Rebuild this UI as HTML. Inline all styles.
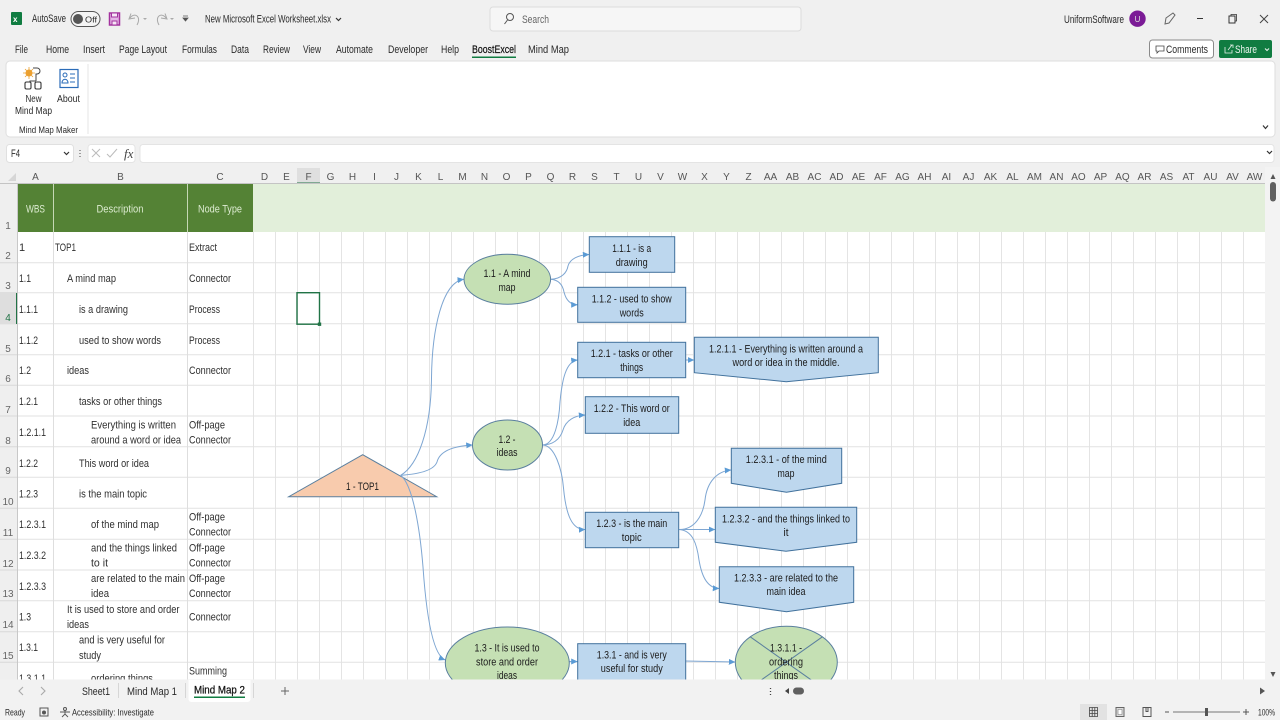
<!DOCTYPE html>
<html><head><meta charset="utf-8"><title>Mind Map</title>
<style>
html,body{margin:0;padding:0;background:#f0f0f0;width:1280px;height:720px;overflow:hidden}
svg{display:block;position:absolute;left:0;top:0;filter:blur(.35px)}
text{font-family:"Liberation Sans",sans-serif;font-size:11px;fill:#2a2a2a}
.c text{font-size:11px;fill:#303030}
.n text{font-size:11px;fill:#1c1c1c;text-anchor:middle}
.h text{font-size:10px;fill:#555;text-anchor:middle}
.r text{font-size:10px;fill:#666;text-anchor:middle}
.i{fill:none;stroke:#555;stroke-width:1}
</style></head><body>
<svg width="1280" height="720" viewBox="0 0 1280 720" xmlns="http://www.w3.org/2000/svg">
<defs>
<pattern id="vg" x="253" y="0" width="22" height="10" patternUnits="userSpaceOnUse"><rect x="0" y="0" width="1" height="10" fill="#e4e4e4"/></pattern>
<marker id="a" markerUnits="userSpaceOnUse" markerWidth="8" markerHeight="8" refX="6.5" refY="3" orient="auto"><path d="M0,0 L6.5,3 L0,6 Z" fill="#5b9bd5"/></marker>
</defs>
<rect width="1280" height="720" fill="#f0f0f0"/>

<!-- title bar -->
<rect x="11" y="12" width="11" height="13" rx="1" fill="#107c41"/><text x="13" y="22" style="font-size:8px;font-weight:bold;fill:#fff">x</text>
<text x="32" y="22" textLength="34" lengthAdjust="spacingAndGlyphs">AutoSave</text>
<rect x="71" y="11.5" width="29" height="15" rx="7.5" fill="#f5f5f5" stroke="#555"/><circle cx="78" cy="19" r="5" fill="#555"/><text x="85" y="22.5" textLength="12" lengthAdjust="spacingAndGlyphs" style="font-size:8px">Off</text>
<path d="M109.500,13h10v12h-10z" fill="#e4b5e6" stroke="#a3329e" stroke-width="1.500"/><path d="M111.500,13h6v4h-6z M112,21h5v4h-5z" fill="#f6e6f6" stroke="#a3329e"/>
<path d="M131,13.500 L129,19 L135,18 M130,18 C134,12 142,16 137,25" class="i" style="stroke:#a8a8a8"/>
<path d="M165,13.500 L167,19 L161,18 M166,18 C162,12 154,16 159,25" class="i" style="stroke:#a8a8a8"/>
<path d="M143,18h4l-2,2z M170,18h4l-2,2z" fill="#aaa"/>
<path d="M183,16h5 M183,18h5l-2.500,3z" fill="#555" stroke="#555" stroke-width=".8"/>
<text x="205" y="22.500" textLength="126" lengthAdjust="spacingAndGlyphs">New Microsoft Excel Worksheet.xlsx</text>
<path d="M336,18l2.500,2.500l2.500,-2.500" fill="none" stroke="#333" stroke-width="1.200"/>
<rect x="490" y="7" width="311" height="24" rx="3" fill="#f6f6f6" stroke="#dcdcdc"/>
<circle cx="510" cy="17" r="3.500" fill="none" stroke="#555"/><path d="M507.500,20l-3,4" stroke="#555"/>
<text x="522" y="23" textLength="27" lengthAdjust="spacingAndGlyphs" style="fill:#666">Search</text>
<text x="1064" y="23" textLength="60" lengthAdjust="spacingAndGlyphs">UniformSoftware</text>
<circle cx="1137.500" cy="18.700" r="8.200" fill="#7b1b96"/><text x="1137.500" y="22" text-anchor="middle" style="font-size:8px;fill:#ddd">U</text>
<path d="M1165,24l1,-6l7,-5l2,2l-6,8z" fill="none" stroke="#666"/>
<path d="M1197,18.500h6" stroke="#333"/><rect x="1229" y="16" width="6" height="7" fill="none" stroke="#333"/><path d="M1231,16v-1.500h5.500v6.500h-1.500" fill="none" stroke="#333" stroke-width=".8"/>
<path d="M1260,15l8,8 M1268,15l-8,8" stroke="#444"/>

<!-- tabs -->
<g>
<text x="15" y="53" textLength="13" lengthAdjust="spacingAndGlyphs">File</text>
<text x="46" y="53" textLength="23" lengthAdjust="spacingAndGlyphs">Home</text>
<text x="83" y="53" textLength="22" lengthAdjust="spacingAndGlyphs">Insert</text>
<text x="119" y="53" textLength="48" lengthAdjust="spacingAndGlyphs">Page Layout</text>
<text x="182" y="53" textLength="35" lengthAdjust="spacingAndGlyphs">Formulas</text>
<text x="231" y="53" textLength="18" lengthAdjust="spacingAndGlyphs">Data</text>
<text x="263" y="53" textLength="27" lengthAdjust="spacingAndGlyphs">Review</text>
<text x="303" y="53" textLength="18" lengthAdjust="spacingAndGlyphs">View</text>
<text x="336" y="53" textLength="37" lengthAdjust="spacingAndGlyphs">Automate</text>
<text x="388" y="53" textLength="40" lengthAdjust="spacingAndGlyphs">Developer</text>
<text x="441" y="53" textLength="18" lengthAdjust="spacingAndGlyphs">Help</text>
<text x="472" y="53" textLength="44" lengthAdjust="spacingAndGlyphs" style="fill:#111;stroke:#111;stroke-width:.2">BoostExcel</text>
<text x="528" y="53" textLength="41" lengthAdjust="spacingAndGlyphs">Mind Map</text>
<rect x="472" y="56.500" width="44" height="1.500" fill="#107c41"/>
</g>
<rect x="1149.500" y="40" width="64" height="18" rx="3" fill="#fff" stroke="#8a8a8a"/>
<path d="M1156,46h8v5h-5l-2,2v-2h-1z" fill="none" stroke="#444" stroke-width=".8"/>
<text x="1166" y="53" textLength="42" lengthAdjust="spacingAndGlyphs">Comments</text>
<rect x="1219" y="40" width="53" height="18" rx="2" fill="#107c41"/>
<path d="M1225,47v6h7v-3 M1228,50l4,-5 M1230,45h3v3" fill="none" stroke="#e8f2ec" stroke-width=".8"/>
<text x="1235" y="53" textLength="22" lengthAdjust="spacingAndGlyphs" style="fill:#eef6f0">Share</text>
<path d="M1265,48.500l2,2l2,-2" fill="none" stroke="#eef6f0"/>

<!-- ribbon -->
<rect x="6" y="61" width="1269" height="76" rx="4" fill="#fff" stroke="#dedede"/>
<rect x="87.500" y="64" width="1" height="70" fill="#e4e4e4"/>
<circle cx="29" cy="73" r="3.500" fill="#f0a030"/><path d="M29,67v12 M23,73h12 M25,69l8,8 M33,69l-8,8" stroke="#e8a030" stroke-width=".8"/>
<path d="M33,68h4a3,3 0 0 1 0,6h-1v7 M36,81l-6,0v1" fill="none" stroke="#444"/>
<rect x="25" y="82" width="6" height="7" rx="1.500" fill="none" stroke="#333" stroke-width="1.100"/><rect x="35" y="82" width="6" height="7" rx="1.500" fill="none" stroke="#333" stroke-width="1.100"/>
<rect x="60" y="69.500" width="18" height="18" fill="#fff" stroke="#2b6cb8" stroke-width="1.200"/>
<circle cx="65" cy="75" r="2" fill="none" stroke="#2b6cb8"/><path d="M62,83c0,-5 6,-5 6,0z" fill="none" stroke="#2b6cb8"/><path d="M70,74h5 M70,78h5 M70,82h5" stroke="#2b6cb8"/>
<text x="33.500" y="102" text-anchor="middle" textLength="16" lengthAdjust="spacingAndGlyphs" style="font-size:10px">New</text>
<text x="33.500" y="114" text-anchor="middle" textLength="37" lengthAdjust="spacingAndGlyphs" style="font-size:10px">Mind Map</text>
<text x="68.500" y="102" text-anchor="middle" textLength="23" lengthAdjust="spacingAndGlyphs" style="font-size:10px">About</text>
<text x="48.500" y="133" text-anchor="middle" textLength="59" lengthAdjust="spacingAndGlyphs" style="font-size:9.500px">Mind Map Maker</text>
<path d="M1263,125.500l2.500,3l2.500,-3" fill="none" stroke="#333" stroke-width="1.200"/>

<!-- formula bar -->
<rect x="6.500" y="144.500" width="67" height="18" rx="3" fill="#fff" stroke="#e0e0e0"/>
<text x="11" y="157" textLength="9" lengthAdjust="spacingAndGlyphs">F4</text>
<path d="M64,152l2.500,2.500l2.500,-2.500" fill="none" stroke="#333" stroke-width="1.200"/>
<path d="M80,150v1 M80,153v1 M80,156v1" stroke="#666" stroke-width="1.200"/>
<rect x="88" y="144.500" width="47" height="18" rx="3" fill="#fff" stroke="#e4e4e4"/>
<path d="M92,149l8,8 M100,149l-8,8 M107,154l3,3l7,-8" fill="none" stroke="#bbb"/>
<text x="124" y="158" style="font-family:'Liberation Serif',serif;font-style:italic;font-size:13px;fill:#444">fx</text>
<rect x="140" y="144.500" width="1134" height="18" rx="3" fill="#fff" stroke="#e4e4e4"/>
<path d="M1267,151l2.500,2.500l2.500,-2.500" fill="none" stroke="#333" stroke-width="1.200"/>

<!-- sheet -->
<rect x="0" y="167" width="1280" height="17" fill="#f0f0f0"/>
<rect x="18" y="184" width="1247" height="496" fill="#fff"/>
<rect x="297" y="168" width="23" height="16" fill="#dfdfdf"/><rect x="297" y="182.500" width="23" height="1.500" fill="#217346"/>
<rect x="0" y="184" width="17.500" height="496" fill="#efefef"/>
<path d="M8,181l8,0l0,-8z" fill="#d6d6d6"/>
<rect x="0" y="183" width="1265" height="1" fill="#c4c4c4"/>
<g class="h">
<text x="35.500" y="180">A</text><text x="120.500" y="180">B</text><text x="220" y="180">C</text>
<text x="264.500" y="180">D</text><text x="286.500" y="180">E</text><text x="308.500" y="180">F</text><text x="330.500" y="180">G</text><text x="352.500" y="180">H</text><text x="374.500" y="180">I</text><text x="396.500" y="180">J</text><text x="418.500" y="180">K</text><text x="440.500" y="180">L</text><text x="462.500" y="180">M</text><text x="484.500" y="180">N</text><text x="506.500" y="180">O</text><text x="528.500" y="180">P</text><text x="550.500" y="180">Q</text><text x="572.500" y="180">R</text><text x="594.500" y="180">S</text><text x="616.500" y="180">T</text><text x="638.500" y="180">U</text><text x="660.500" y="180">V</text><text x="682.500" y="180">W</text><text x="704.500" y="180">X</text><text x="726.500" y="180">Y</text><text x="748.500" y="180">Z</text><text x="770.500" y="180">AA</text><text x="792.500" y="180">AB</text><text x="814.500" y="180">AC</text><text x="836.500" y="180">AD</text><text x="858.500" y="180">AE</text><text x="880.500" y="180">AF</text><text x="902.500" y="180">AG</text><text x="924.500" y="180">AH</text><text x="946.500" y="180">AI</text><text x="968.500" y="180">AJ</text><text x="990.500" y="180">AK</text><text x="1012.500" y="180">AL</text><text x="1034.500" y="180">AM</text><text x="1056.500" y="180">AN</text><text x="1078.500" y="180">AO</text><text x="1100.500" y="180">AP</text><text x="1122.500" y="180">AQ</text><text x="1144.500" y="180">AR</text><text x="1166.500" y="180">AS</text><text x="1188.500" y="180">AT</text><text x="1210.500" y="180">AU</text><text x="1232.500" y="180">AV</text><text x="1254.500" y="180">AW</text>
</g>
<rect x="253" y="184" width="1012" height="48" fill="#e2efda"/>
<rect x="17.500" y="184" width="235.500" height="48" fill="#548235"/>
<rect x="53" y="184" width="1" height="48" fill="#c5d8b5"/><rect x="187" y="184" width="1" height="48" fill="#c5d8b5"/>
<text x="35.500" y="212.500" textLength="19" lengthAdjust="spacingAndGlyphs" style="fill:#dcebd0" text-anchor="middle">WBS</text>
<text x="120" y="212.500" textLength="47" lengthAdjust="spacingAndGlyphs" style="fill:#dcebd0" text-anchor="middle">Description</text>
<text x="220" y="212.500" textLength="44" lengthAdjust="spacingAndGlyphs" style="fill:#dcebd0" text-anchor="middle">Node Type</text>
<!-- grid -->
<rect x="253" y="232" width="1012" height="448" fill="url(#vg)"/>
<path d="M17.500,262.700H1265M17.500,292.700H1265M17.500,323.700H1265M17.500,354.700H1265M17.500,385.300H1265M17.500,416H1265M17.500,446.700H1265M17.500,477.300H1265M17.500,508.300H1265M17.500,539.300H1265M17.500,570H1265M17.500,600.700H1265M17.500,631.700H1265M17.500,662.300H1265" stroke="#e2e2e2" stroke-width="1" fill="none"/>
<path d="M53.500,232V680M187.500,232V680" stroke="#dedede"/>
<path d="M0,262.700H17M0,292.700H17M0,323.700H17M0,354.700H17M0,385.300H17M0,416H17M0,446.700H17M0,477.300H17M0,508.300H17M0,539.300H17M0,570H17M0,600.700H17M0,631.700H17M0,662.300H17" stroke="#d8d8d8"/>
<rect x="0" y="293" width="17" height="31" fill="#dedede"/><rect x="16" y="293" width="2" height="31" fill="#217346"/>
<rect x="17" y="184" width="1" height="496" fill="#c8c8c8"/>
<g class="r">
<text x="8" y="229">1</text><text x="8" y="259">2</text><text x="8" y="289">3</text><text x="8" y="321" style="fill:#217346">4</text><text x="8" y="352">5</text><text x="8" y="382">6</text><text x="8" y="413">7</text><text x="8" y="444">8</text><text x="8" y="474">9</text><text x="8" y="505">10</text><text x="8" y="536">11</text><text x="8" y="567">12</text><text x="8" y="597">13</text><text x="8" y="628">14</text><text x="8" y="659">15</text>
</g>
<g class="c">
<text x="19" y="251">1</text><text x="55" y="251" textLength="21" lengthAdjust="spacingAndGlyphs">TOP1</text><text x="189" y="251" textLength="28" lengthAdjust="spacingAndGlyphs">Extract</text>
<text x="19" y="282" textLength="12" lengthAdjust="spacingAndGlyphs">1.1</text><text x="67" y="282" textLength="49" lengthAdjust="spacingAndGlyphs">A mind map</text><text x="189" y="282" textLength="42" lengthAdjust="spacingAndGlyphs">Connector</text>
<text x="19" y="313" textLength="19" lengthAdjust="spacingAndGlyphs">1.1.1</text><text x="79" y="313" textLength="49" lengthAdjust="spacingAndGlyphs">is a drawing</text><text x="189" y="313" textLength="31" lengthAdjust="spacingAndGlyphs">Process</text>
<text x="19" y="344" textLength="19" lengthAdjust="spacingAndGlyphs">1.1.2</text><text x="79" y="344" textLength="82" lengthAdjust="spacingAndGlyphs">used to show words</text><text x="189" y="344" textLength="31" lengthAdjust="spacingAndGlyphs">Process</text>
<text x="19" y="374" textLength="12" lengthAdjust="spacingAndGlyphs">1.2</text><text x="67" y="374" textLength="22" lengthAdjust="spacingAndGlyphs">ideas</text><text x="189" y="374" textLength="42" lengthAdjust="spacingAndGlyphs">Connector</text>
<text x="19" y="405" textLength="19" lengthAdjust="spacingAndGlyphs">1.2.1</text><text x="79" y="405" textLength="83" lengthAdjust="spacingAndGlyphs">tasks or other things</text>
<text x="19" y="436" textLength="27" lengthAdjust="spacingAndGlyphs">1.2.1.1</text><text x="91" y="428.500" textLength="85" lengthAdjust="spacingAndGlyphs">Everything is written</text><text x="91" y="443.500" textLength="90" lengthAdjust="spacingAndGlyphs">around a word or idea</text><text x="189" y="428.500" textLength="36" lengthAdjust="spacingAndGlyphs">Off-page</text><text x="189" y="443.500" textLength="42" lengthAdjust="spacingAndGlyphs">Connector</text>
<text x="19" y="467" textLength="19" lengthAdjust="spacingAndGlyphs">1.2.2</text><text x="79" y="467" textLength="70" lengthAdjust="spacingAndGlyphs">This word or idea</text>
<text x="19" y="497.500" textLength="19" lengthAdjust="spacingAndGlyphs">1.2.3</text><text x="79" y="497.500" textLength="68" lengthAdjust="spacingAndGlyphs">is the main topic</text>
<text x="19" y="528" textLength="27" lengthAdjust="spacingAndGlyphs">1.2.3.1</text><text x="91" y="528" textLength="68" lengthAdjust="spacingAndGlyphs">of the mind map</text><text x="189" y="520.500" textLength="36" lengthAdjust="spacingAndGlyphs">Off-page</text><text x="189" y="535.500" textLength="42" lengthAdjust="spacingAndGlyphs">Connector</text>
<text x="19" y="559" textLength="27" lengthAdjust="spacingAndGlyphs">1.2.3.2</text><text x="91" y="551.500" textLength="86" lengthAdjust="spacingAndGlyphs">and the things linked</text><text x="91" y="566.500" textLength="17" lengthAdjust="spacingAndGlyphs">to it</text><text x="189" y="551.500" textLength="36" lengthAdjust="spacingAndGlyphs">Off-page</text><text x="189" y="566.500" textLength="42" lengthAdjust="spacingAndGlyphs">Connector</text>
<text x="19" y="590" textLength="27" lengthAdjust="spacingAndGlyphs">1.2.3.3</text><text x="91" y="582" textLength="94" lengthAdjust="spacingAndGlyphs">are related to the main</text><text x="91" y="597" textLength="18" lengthAdjust="spacingAndGlyphs">idea</text><text x="189" y="582" textLength="36" lengthAdjust="spacingAndGlyphs">Off-page</text><text x="189" y="597" textLength="42" lengthAdjust="spacingAndGlyphs">Connector</text>
<text x="19" y="620.500" textLength="12" lengthAdjust="spacingAndGlyphs">1.3</text><text x="67" y="613" textLength="112.500" lengthAdjust="spacingAndGlyphs">It is used to store and order</text><text x="67" y="628" textLength="22" lengthAdjust="spacingAndGlyphs">ideas</text><text x="189" y="620.500" textLength="42" lengthAdjust="spacingAndGlyphs">Connector</text>
<text x="19" y="651" textLength="19" lengthAdjust="spacingAndGlyphs">1.3.1</text><text x="79" y="643.500" textLength="86" lengthAdjust="spacingAndGlyphs">and is very useful for</text><text x="79" y="659" textLength="22" lengthAdjust="spacingAndGlyphs">study</text>
<text x="19" y="682" textLength="27" lengthAdjust="spacingAndGlyphs">1.3.1.1</text><text x="91" y="682" textLength="62" lengthAdjust="spacingAndGlyphs">ordering things</text><text x="189" y="674.500" textLength="38" lengthAdjust="spacingAndGlyphs">Summing</text>
</g>

<!-- selection -->
<rect x="297" y="292.700" width="22.500" height="31.500" fill="none" stroke="#217346" stroke-width="1.400"/>
<rect x="317.800" y="322.500" width="3.400" height="3.400" fill="#217346"/>

<!-- triangle sits under the connectors -->
<polygon points="362.700,454.700 436.700,496.700 288.700,496.700" fill="#f8cbad" stroke="#5a7f9e"/>

<!-- connectors -->
<g fill="none" stroke="#7ea6d2" stroke-width="1" marker-end="url(#a)">
<path d="M400.700,475.300 C418,465 431,430 431.500,378 C432,330 442,282 464,279.300"/>
<path d="M400.700,475.300 C420,474 434,470 437,462 C440,450 455,446 472.700,445"/>
<path d="M400.700,475.300 C413,485 420,530 423,567 C426,610 432,655 445.300,660"/>
<path d="M550.700,279.300 C562,279 567,272 568,266 C570,259 578,255 589.300,254.500"/>
<path d="M550.700,279.300 C560,280 563,287 564,292 C566,300 570,304.800 577.700,304.800"/>
<path d="M542.300,445 C555,445 559,420 560,402 C562,380 566,361 577.700,360"/>
<path d="M542.300,445 C552,445 560,440 563,430 C566,420 575,415.500 585.300,415"/>
<path d="M542.300,445 C555,445 562,470 563.500,488 C566,515 572,530 585.300,529.500"/>
<path d="M685.700,360 L694.300,360"/>
<path d="M678.700,529.500 C695,530 703,515 705,500 C707,482 717,471 731.300,470"/>
<path d="M678.700,529.500 L715.300,529.500"/>
<path d="M678.700,529.500 C693,530 697,545 699,560 C702,578 708,588 719.300,588.500"/>
<path d="M569.300,661.500 L577.700,661.500"/>
<path d="M685.700,661 L735.300,662"/>
</g>

<!-- nodes -->
<g stroke="#5a7f9e" stroke-width="1">
<ellipse cx="507.300" cy="279.300" rx="43.300" ry="25" fill="#c5e0b4"/>
<ellipse cx="507.500" cy="445" rx="35" ry="25" fill="#c5e0b4"/>
<ellipse cx="507.300" cy="663" rx="62" ry="36" fill="#c5e0b4"/>
<ellipse cx="786.300" cy="662.300" rx="51" ry="36" fill="#c5e0b4"/>
<path d="M750.200,636.800 L822.400,687.800 M822.400,636.800 L750.200,687.800"/>
<g fill="#bdd7ee" stroke="#41719c">
<rect x="589.300" y="236.700" width="85.400" height="35.600"/>
<rect x="577.700" y="287.300" width="108" height="35"/>
<rect x="577.700" y="342.300" width="108" height="35.400"/>
<rect x="585.300" y="396.700" width="93.400" height="36.600"/>
<rect x="585.300" y="512.300" width="93.400" height="35.400"/>
<rect x="577.700" y="643.700" width="108" height="50"/>
<polygon points="694.300,337.300 878.300,337.300 878.300,372.700 786.300,381.700 694.300,372.700"/>
<polygon points="731.300,448.300 841.700,448.300 841.700,483.300 786.500,492.300 731.300,483.300"/>
<polygon points="715.300,507.300 856.700,507.300 856.700,542.300 786,551.300 715.300,542.300"/>
<polygon points="719.300,566.700 853.700,566.700 853.700,602.300 786.500,611.700 719.300,602.300"/>
</g>
</g>
<g class="n">
<text x="362.500" y="490" textLength="33" lengthAdjust="spacingAndGlyphs">1 - TOP1</text>
<text x="507" y="277" textLength="47" lengthAdjust="spacingAndGlyphs">1.1 - A mind</text><text x="507" y="291" textLength="17" lengthAdjust="spacingAndGlyphs">map</text>
<text x="507" y="443" textLength="17" lengthAdjust="spacingAndGlyphs">1.2 -</text><text x="507" y="456" textLength="21" lengthAdjust="spacingAndGlyphs">ideas</text>
<text x="507" y="651.500" textLength="65" lengthAdjust="spacingAndGlyphs">1.3 - It is used to</text><text x="507" y="665.500" textLength="62" lengthAdjust="spacingAndGlyphs">store and order</text><text x="507" y="679" textLength="20" lengthAdjust="spacingAndGlyphs">ideas</text>
<text x="631.700" y="252" textLength="39" lengthAdjust="spacingAndGlyphs">1.1.1 - is a</text><text x="631.700" y="266" textLength="32" lengthAdjust="spacingAndGlyphs">drawing</text>
<text x="631.700" y="302.500" textLength="80" lengthAdjust="spacingAndGlyphs">1.1.2 - used to show</text><text x="631.700" y="316.500" textLength="24" lengthAdjust="spacingAndGlyphs">words</text>
<text x="631.700" y="357" textLength="82" lengthAdjust="spacingAndGlyphs">1.2.1 - tasks or other</text><text x="631.700" y="371" textLength="23" lengthAdjust="spacingAndGlyphs">things</text>
<text x="631.700" y="412" textLength="76" lengthAdjust="spacingAndGlyphs">1.2.2 - This word or</text><text x="631.700" y="426" textLength="17" lengthAdjust="spacingAndGlyphs">idea</text>
<text x="786" y="352.500" textLength="154" lengthAdjust="spacingAndGlyphs">1.2.1.1 - Everything is written around a</text><text x="786" y="366" textLength="107" lengthAdjust="spacingAndGlyphs">word or idea in the middle.</text>
<text x="786.300" y="463" textLength="81" lengthAdjust="spacingAndGlyphs">1.2.3.1 - of the mind</text><text x="786" y="477" textLength="17" lengthAdjust="spacingAndGlyphs">map</text>
<text x="786" y="522.500" textLength="128" lengthAdjust="spacingAndGlyphs">1.2.3.2 - and the things linked to</text><text x="786" y="536" textLength="5" lengthAdjust="spacingAndGlyphs">it</text>
<text x="786" y="581.500" textLength="104" lengthAdjust="spacingAndGlyphs">1.2.3.3 - are related to the</text><text x="786" y="595" textLength="39" lengthAdjust="spacingAndGlyphs">main idea</text>
<text x="631.700" y="527" textLength="71" lengthAdjust="spacingAndGlyphs">1.2.3 - is the main</text><text x="631.700" y="541" textLength="20" lengthAdjust="spacingAndGlyphs">topic</text>
<text x="631.800" y="658.700" textLength="70" lengthAdjust="spacingAndGlyphs">1.3.1 - and is very</text><text x="631.800" y="672" textLength="62" lengthAdjust="spacingAndGlyphs">useful for study</text>
<text x="786" y="651.500" textLength="32" lengthAdjust="spacingAndGlyphs">1.3.1.1 -</text><text x="786" y="665.500" textLength="34" lengthAdjust="spacingAndGlyphs">ordering</text><text x="786" y="679" textLength="24" lengthAdjust="spacingAndGlyphs">things</text>
</g>

<!-- v scrollbar -->
<rect x="1265" y="167" width="15" height="513" fill="#f3f3f3"/>
<path d="M1270.500,179l2.500,-5l2.500,5z" fill="#555"/>
<rect x="1270" y="182" width="6" height="19.500" rx="3" fill="#606060"/>
<path d="M1270.500,672l2.500,5l2.500,-5z" fill="#555"/>

<!-- tab bar -->
<rect x="0" y="679.500" width="1280" height="41" fill="#f2f2f2"/>
<path d="M23,687l-4,4l4,4 M41,687l4,4l-4,4" fill="none" stroke="#aaa" stroke-width="1.100"/>
<text x="82" y="695" textLength="28" lengthAdjust="spacingAndGlyphs" style="font-size:11px">Sheet1</text>
<rect x="118" y="683" width="1" height="15" fill="#d6d6d6"/>
<text x="127" y="695" textLength="50" lengthAdjust="spacingAndGlyphs" style="font-size:11px">Mind Map 1</text>
<rect x="185" y="683" width="1" height="15" fill="#d6d6d6"/>
<path d="M188.500,680h62v19a3,3 0 0 1 -3,3h-56a3,3 0 0 1 -3,-3z" fill="#fff"/>
<text x="194" y="693.500" textLength="51" lengthAdjust="spacingAndGlyphs" style="font-size:11px;fill:#111;stroke:#111;stroke-width:.25">Mind Map 2</text>
<rect x="194" y="696.500" width="51" height="1.500" fill="#107c41"/>
<rect x="253" y="683" width="1" height="15" fill="#d6d6d6"/>
<path d="M285,687v8 M281,691h8" stroke="#666"/>
<path d="M770.500,688v1 M770.500,691v1 M770.500,694v1" stroke="#444" stroke-width="1.300"/>
<path d="M789,688l-4,3l4,3z" fill="#444"/><rect x="793" y="687.500" width="11" height="7" rx="3.500" fill="#606060"/>
<path d="M1260,687.500l5,3.500l-5,3.500z" fill="#555"/>

<!-- status bar -->
<text x="5" y="715.500" textLength="20" lengthAdjust="spacingAndGlyphs" style="font-size:9.500px">Ready</text>
<rect x="40" y="708" width="8" height="8" fill="none" stroke="#555"/><circle cx="44" cy="712.500" r="2" fill="#555"/>
<circle cx="65" cy="709" r="1.500" fill="none" stroke="#555"/><path d="M60,712h10 M65,711v3 M62,717l3,-3l3,3" fill="none" stroke="#555" stroke-width=".9"/>
<text x="72" y="715.500" textLength="82" lengthAdjust="spacingAndGlyphs" style="font-size:9.500px">Accessibility: Investigate</text>
<rect x="1080" y="704" width="27" height="16" fill="#e2e2e2"/>
<path d="M1089.500,707.500h8v9h-8z M1089.500,710.500h8 M1089.500,713.500h8 M1092.200,707.500v9 M1094.800,707.500v9" fill="none" stroke="#444" stroke-width=".8"/>
<rect x="1116" y="707.500" width="8" height="9" fill="#ddd" stroke="#666"/><path d="M1118,709.500h4v5h-4z" fill="#fff" stroke="#777" stroke-width=".6"/>
<path d="M1143,707.500h8v9h-8z M1146,707.500v4h2v-4" fill="none" stroke="#555"/>
<path d="M1165,712h4 M1243,712h6 M1246,709v6" stroke="#555"/>
<rect x="1173" y="711.500" width="67" height="1" fill="#777"/><rect x="1205" y="708" width="3" height="8" fill="#555"/>
<text x="1258" y="715.500" textLength="17" lengthAdjust="spacingAndGlyphs" style="font-size:9.500px">100%</text>
</svg>
</body></html>
